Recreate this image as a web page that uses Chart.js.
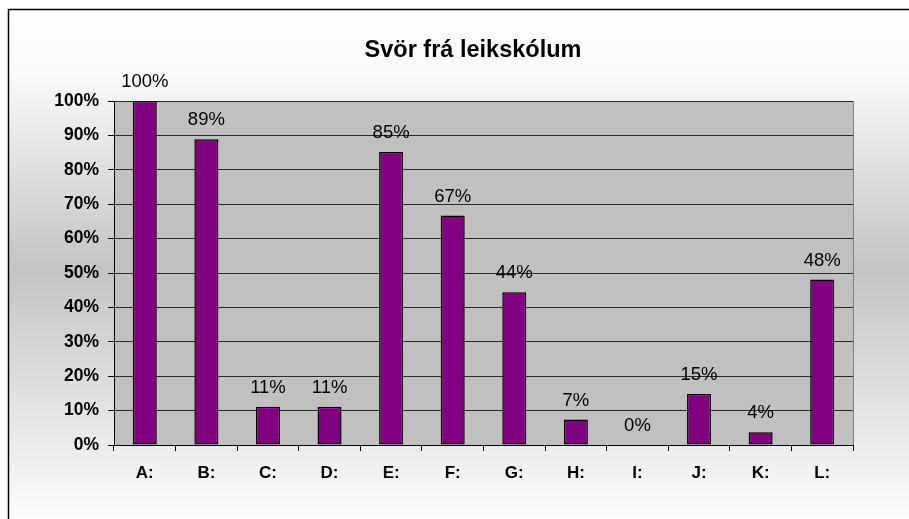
<!DOCTYPE html>
<html>
<head>
<meta charset="utf-8">
<script src="https://cdn.jsdelivr.net/npm/chart.js@4/dist/chart.umd.min.js"></script>
<style>
  html, body { margin: 0; padding: 0; background: #fff; }
  #wrap { width: 909px; height: 519px; }
</style>
</head>
<body>
<div id="wrap"><canvas id="chart" width="909" height="519"></canvas></div>
<script>
// --- Data ---
const CHART_TITLE = 'Svör frá leikskólum';
const CATEGORIES = ['A:', 'B:', 'C:', 'D:', 'E:', 'F:', 'G:', 'H:', 'I:', 'J:', 'K:', 'L:'];
const VALUES = [100, 88.9, 11.1, 11.1, 85.2, 66.7, 44.4, 7.4, 0, 14.8, 3.7, 48.1];
const Y_TICKS = [0, 10, 20, 30, 40, 50, 60, 70, 80, 90, 100];

const FONT = "'Liberation Sans', Arial, sans-serif";

// --- Background, plot area, title and value labels ---
const frame = {
    id: 'frame',
    beforeDraw(chart) {
        const { ctx, chartArea: a } = chart;
        ctx.save();
        // chart background: white -> grey -> white, top to bottom
        const g = ctx.createLinearGradient(0, 9, 0, 530);
        g.addColorStop(0, 'rgb(255,255,255)');
        g.addColorStop(0.12, 'rgb(250,250,250)');
        g.addColorStop(0.5, 'rgb(196,196,196)');
        g.addColorStop(1, 'rgb(255,255,255)');
        ctx.fillStyle = g;
        ctx.fillRect(8, 9, 901, 510);
        // outer border (left + top only are in view)
        ctx.strokeStyle = '#000';
        ctx.lineWidth = 1.5;
        ctx.beginPath();
        ctx.moveTo(8.5, chart.height);
        ctx.lineTo(8.5, 9.5);
        ctx.lineTo(chart.width, 9.5);
        ctx.stroke();
        // plot area
        ctx.fillStyle = '#c0c0c0';
        ctx.fillRect(a.left, a.top, a.right - a.left, a.bottom - a.top);
        ctx.strokeStyle = '#808080';
        ctx.lineWidth = 1;
        ctx.strokeRect(Math.round(a.left) + 0.5, Math.round(a.top) + 0.5,
            Math.round(a.right - a.left), Math.round(a.bottom - a.top));
        // title
        ctx.fillStyle = '#000';
        ctx.font = 'bold 23.5px ' + FONT;
        ctx.textAlign = 'center';
        ctx.textBaseline = 'alphabetic';
        ctx.fillText(CHART_TITLE, 473, 57);
        ctx.restore();
    },
    afterDatasetsDraw(chart) {
        const { ctx } = chart;
        const meta = chart.getDatasetMeta(0);
        ctx.save();
        ctx.fillStyle = '#000';
        ctx.font = '18.5px ' + FONT;
        ctx.textAlign = 'center';
        ctx.textBaseline = 'alphabetic';
        meta.data.forEach((bar, i) => {
            ctx.fillText(Math.round(VALUES[i]) + '%', bar.x, bar.y - 14);
        });
        ctx.restore();
    }
};

new Chart(document.getElementById('chart').getContext('2d'), {
    type: 'bar',
    data: {
        labels: CATEGORIES,
        datasets: [{
            data: VALUES,
            backgroundColor: '#800080',
            borderColor: '#000',
            borderWidth: 1.5,
            borderSkipped: false,
            categoryPercentage: 1,
            barPercentage: 0.39
        }]
    },
    options: {
        responsive: false,
        animation: false,
        layout: { padding: { left: 8, right: 56, top: 101, bottom: 34 } },
        plugins: {
            legend: { display: false },
            title: { display: false },
            tooltip: { enabled: false }
        },
        scales: {
            x: {
                grid: { drawOnChartArea: false, drawTicks: true, tickLength: 6, tickColor: '#000', offset: true },
                border: { color: '#000', width: 1 },
                ticks: { color: '#000', font: { family: FONT, size: 17, weight: 'bold' }, padding: 12, maxRotation: 0 },
                afterFit(scale) { scale.height = 40; }
            },
            y: {
                min: 0,
                max: 100,
                afterBuildTicks(scale) { scale.ticks = Y_TICKS.map(v => ({ value: v })); },
                grid: { color: '#2a2a2a', lineWidth: 1, tickLength: 6, tickColor: '#000' },
                border: { color: '#000', width: 1 },
                ticks: {
                    color: '#000',
                    font: { family: FONT, size: 17.5, weight: 'bold' },
                    padding: 9,
                    callback: v => v + '%'
                },
                afterFit(scale) { scale.width = 106; }
            }
        }
    },
    plugins: [frame]
});
</script>
</body>
</html>
